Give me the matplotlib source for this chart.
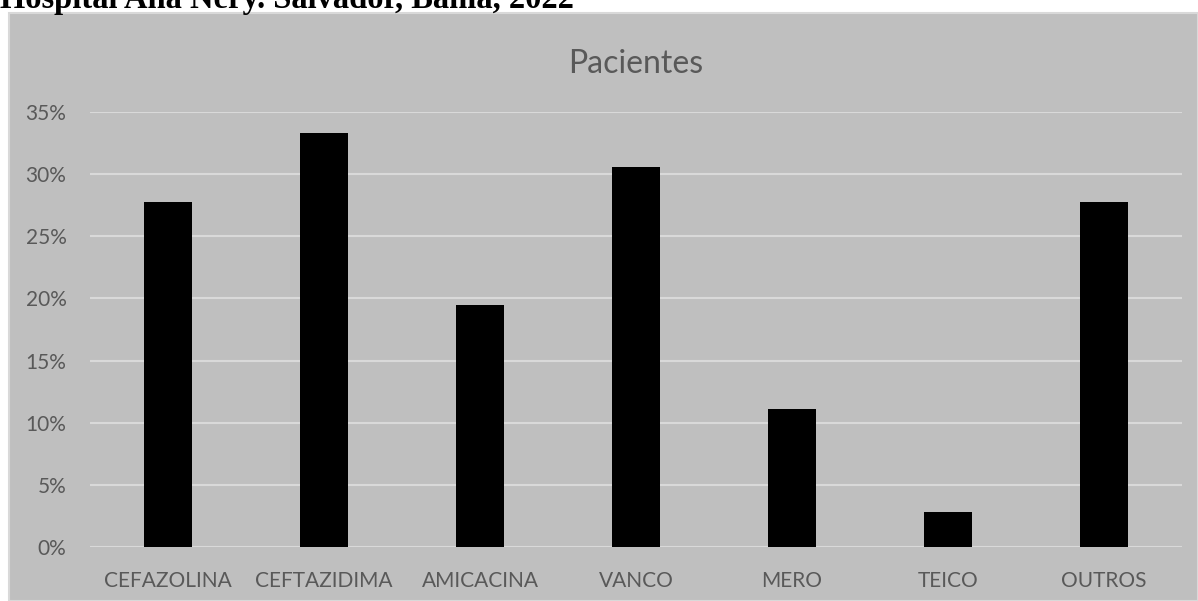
import matplotlib
matplotlib.use("Agg")
import matplotlib.pyplot as plt
from matplotlib.patches import Rectangle
from matplotlib.ticker import PercentFormatter

# data
categories = ["CEFAZOLINA", "CEFTAZIDIMA", "AMICACINA", "VANCO", "MERO", "TEICO", "OUTROS"]
pacientes = [0.2778, 0.3333, 0.1944, 0.3056, 0.1111, 0.0278, 0.2778]
y_ticks = [0, 0.05, 0.10, 0.15, 0.20, 0.25, 0.30, 0.35]

W, H = 1198, 601
text_gray = "#595959"

fig = plt.figure(figsize=(W / 100, H / 100), dpi=100)
fig.patch.set_facecolor("white")

# gray chart panel, behind everything
fig.patches.append(Rectangle((9 / W, 0), 1 - 9 / W, (H - 13) / H,
                             transform=fig.transFigure, facecolor="#bfbfbf",
                             edgecolor="#d9d9d9", linewidth=1.5, zorder=-10))

# caption cut off at the top of the image
fig.text(0, (H - 8) / H, "Hospital Ana Nery. Salvador, Bahia, 2022",
         family="Liberation Serif", weight="bold", fontsize=23.5,
         va="baseline", ha="left", color="black")

ax = fig.add_axes([90 / W, 54 / H, (1182 - 90) / W, (547 - 112) / H])
ax.set_facecolor("none")

x = range(len(categories))
ax.bar(x, pacientes, width=0.314, color="black", zorder=3)

ax.set_xlim(-0.5, len(categories) - 0.5)
ax.set_ylim(0, 0.35)
ax.set_yticks(y_ticks)
ax.yaxis.set_major_formatter(PercentFormatter(1.0, decimals=0))
ax.set_xticks(list(x))
ax.set_xticklabels(categories)
ax.grid(axis="y", color="#d9d9d9", linewidth=1.5, zorder=0)
ax.set_axisbelow(True)

for spine in ax.spines.values():
    spine.set_visible(False)
ax.tick_params(length=0, labelsize=15, labelcolor=text_gray, pad=17)
ax.tick_params(axis="y", pad=17)
for lbl in ax.get_xticklabels() + ax.get_yticklabels():
    lbl.set_family("Lato")

ax.set_title("Pacientes", fontsize=23, color=text_gray, family="Lato", pad=28)

fig.savefig("out.png", dpi=100)
